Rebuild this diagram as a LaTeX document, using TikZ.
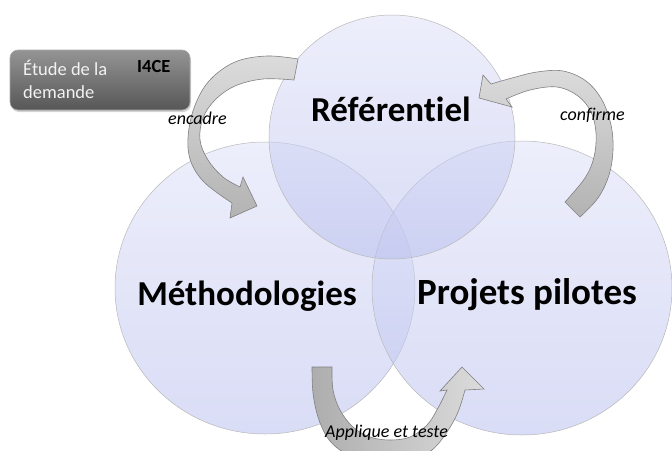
\documentclass[tikz,border=0pt]{standalone}
\usepackage{fontspec}
\setmainfont{Carlito}[Ligatures=CommonOff]
\usetikzlibrary{shadows}

\definecolor{circtop}{RGB}{222,225,248}
\definecolor{circbot}{RGB}{186,192,238}

\begin{document}
\begin{tikzpicture}[x=1pt,y=-1pt,
    zone/.style={draw=black!28,line width=0.5pt,top color=circtop,bottom color=circbot,fill opacity=0.55},
    bigtxt/.style={font=\fontsize{35}{40}\selectfont\bfseries,anchor=base,inner sep=0pt},
    lbl/.style={font=\fontsize{18}{21}\selectfont\itshape,anchor=base west,inner sep=0pt},
    grayarrow/.style={draw=black!50,line width=0.6pt,top color=black!14,bottom color=black!30},
    grayarrowh/.style={draw=black!50,line width=0.6pt,left color=black!32,right color=black!14},
    etude/.style={rounded corners=8pt,draw=black!35,line width=0.6pt,top color=black!42,bottom color=black!66,
        minimum width=180pt,minimum height=60pt,drop shadow={opacity=0.35,shadow xshift=1pt,shadow yshift=-2pt}}]
        \useasboundingbox (0,0) rectangle (672,450);
        \clip (0,0) rectangle (672,450);
        % les trois zones
        \shade[zone] (265,288) ellipse [x radius=150pt,y radius=146pt];
        \shade[zone] (522,288) ellipse [x radius=150pt,y radius=147pt];
        \shade[zone] (392,137) ellipse [x radius=123pt,y radius=122pt];
        \node[bigtxt] (ref) at (391,121) {Référentiel};
        \node[bigtxt] (meth) at (247,305) {Méthodologies};
        \node[bigtxt,font=\fontsize{37}{42}\selectfont\bfseries] (proj) at (527,304) {Projets pilotes};
        % encadre
        \shade[grayarrow] (298,59)
            -- plot[smooth,tension=0.6] coordinates {(298,59) (267,56) (235,62) (209,81) (194,108) (188,138) (191,162) (205,183) (232,203)}
            -- (230,218) -- (257,206) -- (243,177)
            -- plot[smooth,tension=0.6] coordinates {(240,187) (223,177) (208,160) (200,140) (203,118) (215,100) (235,86) (263,79) (294,80)}
            -- cycle;
        % confirme
        \shade[grayarrow] (565,202) -- (580,217)
            -- plot[smooth,tension=0.6] coordinates {(580,217) (598,198) (609,175) (613,150) (611,125) (602,100) (586,81) (563,71) (537,72) (512,78) (491,84)}
            -- (483,75) -- (479,98) -- (512,107)
            -- plot[smooth,tension=0.6] coordinates {(506,99) (530,90) (557,87) (578,96) (591,112) (596,133) (594,157) (585,178) (565,202)}
            -- cycle;
        % applique et teste
        \shade[grayarrowh] (312,367) -- (332,367)
            -- plot[smooth,tension=0.6] coordinates {(332,367) (333,390) (340,410) (353,427) (370,437) (390,440) (410,437) (427,425) (438,408) (447,390)}
            -- (440,391) -- (462,367) -- (484,389) -- (465,390)
            -- plot[smooth,tension=0.6] coordinates {(465,390) (458,412) (447,432) (432,450) (410,462) (385,465) (360,460) (340,450) (327,437) (318,417) (313,393) (312,367)}
            -- cycle;
        \node[lbl] (encadre) at (168,124) {encadre};
        \node[lbl] (confirme) at (560,120) {confirme};
        \node[lbl] (applique) at (325,437) {Applique et teste};
        % boite etude
        \node[etude] (etude) at (100,80) {};
        \node[font=\fontsize{18.5}{22}\selectfont,text=white!95!black,anchor=base west,inner sep=0pt] (etude1) at (23,75) {Étude de la};
        \node[font=\fontsize{18.5}{22}\selectfont,text=white!95!black,anchor=base west,inner sep=0pt] (etude2) at (23,98) {demande};
        \node[font=\fontsize{18.5}{22}\selectfont\bfseries,anchor=base west,inner sep=0pt] (i4ce) at (137,72) {I4CE};
\end{tikzpicture}
\end{document}
